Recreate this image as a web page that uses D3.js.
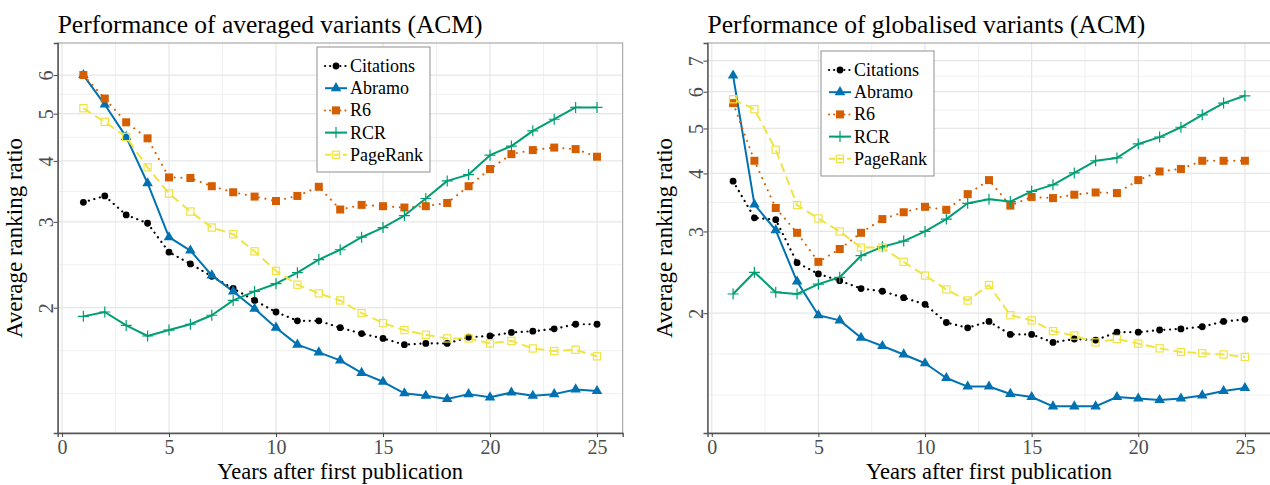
<!DOCTYPE html>
<html>
<head>
<meta charset="utf-8">
<script src="https://cdn.jsdelivr.net/npm/d3@7"></script>
<style>
  body { margin: 0; background: #fff; }
  svg { display: block; }
  text { font-family: "Liberation Serif", "Times New Roman", serif; }
</style>
</head>
<body>
<svg id="chart" width="1270" height="485"></svg>
<script>
// Years after first publication
const years = [1, 2, 3, 4, 5, 6, 7, 8, 9, 10, 11, 12, 13, 14, 15, 16, 17, 18, 19, 20, 21, 22, 23, 24, 25];
const seriesNames = ["Citations", "Abramo", "R6", "RCR", "PageRank"];
const xTicks = [0, 5, 10, 15, 20, 25];

// Averaged variants (left panel)
const avgCitations = [3.29, 3.39, 3.10, 2.98, 2.60, 2.46, 2.32, 2.19, 2.07, 1.96, 1.88, 1.88, 1.82, 1.77, 1.73, 1.68, 1.69, 1.69, 1.74, 1.75, 1.78, 1.79, 1.81, 1.85, 1.85];
const avgAbramo    = [6.00, 5.22, 4.48, 3.60, 2.79, 2.62, 2.33, 2.16, 1.99, 1.82, 1.68, 1.62, 1.56, 1.47, 1.41, 1.335, 1.32, 1.30, 1.33, 1.31, 1.34, 1.32, 1.33, 1.36, 1.35];
const avgR6        = [6.00, 5.37, 4.80, 4.45, 3.70, 3.69, 3.55, 3.45, 3.38, 3.31, 3.39, 3.54, 3.18, 3.25, 3.23, 3.21, 3.23, 3.28, 3.55, 3.85, 4.13, 4.21, 4.26, 4.23, 4.08];
const avgRCR       = [1.92, 1.96, 1.84, 1.75, 1.80, 1.85, 1.93, 2.07, 2.16, 2.24, 2.36, 2.51, 2.63, 2.79, 2.92, 3.09, 3.35, 3.64, 3.75, 4.11, 4.29, 4.61, 4.87, 5.15, 5.15];
const avgPageRank  = [5.13, 4.81, 4.48, 3.88, 3.43, 3.15, 2.92, 2.83, 2.61, 2.38, 2.23, 2.14, 2.07, 1.95, 1.86, 1.80, 1.76, 1.73, 1.73, 1.69, 1.71, 1.65, 1.63, 1.64, 1.59];
const avgYTicks = [2, 3, 4, 5, 6];

// Globalised variants (right panel)
const globCitations = [3.85, 3.21, 3.18, 2.57, 2.43, 2.35, 2.26, 2.23, 2.16, 2.09, 1.91, 1.86, 1.92, 1.80, 1.80, 1.73, 1.76, 1.75, 1.82, 1.82, 1.84, 1.85, 1.87, 1.92, 1.94];
const globAbramo    = [6.50, 3.43, 3.02, 2.34, 1.98, 1.93, 1.77, 1.70, 1.63, 1.56, 1.45, 1.39, 1.39, 1.34, 1.32, 1.26, 1.26, 1.26, 1.32, 1.31, 1.30, 1.31, 1.33, 1.36, 1.38];
const globR6        = [5.67, 4.26, 3.37, 2.98, 2.58, 2.75, 2.98, 3.19, 3.30, 3.39, 3.34, 3.61, 3.87, 3.41, 3.56, 3.54, 3.60, 3.64, 3.63, 3.87, 4.04, 4.09, 4.26, 4.26, 4.26];
const globRCR       = [2.20, 2.45, 2.22, 2.20, 2.31, 2.39, 2.66, 2.78, 2.86, 3.00, 3.19, 3.45, 3.52, 3.48, 3.66, 3.78, 4.01, 4.26, 4.32, 4.63, 4.79, 5.03, 5.35, 5.67, 5.88];
const globPageRank  = [5.78, 5.50, 4.50, 3.42, 3.20, 3.00, 2.77, 2.77, 2.58, 2.41, 2.25, 2.13, 2.30, 1.98, 1.93, 1.83, 1.79, 1.73, 1.76, 1.72, 1.68, 1.65, 1.64, 1.63, 1.61];
const globYTicks = [2, 3, 4, 5, 6, 7];

const styles = {
  Citations: { color: "#000000", width: 2.2, dash: "0.1,5.6", cap: "round", shape: "circle" },
  Abramo:    { color: "#0072B2", width: 2,   dash: null,      cap: "butt",  shape: "triangle" },
  R6:        { color: "#D55E00", width: 2,   dash: "0.1,6.6", cap: "round", shape: "square" },
  RCR:       { color: "#009E73", width: 2,   dash: null,      cap: "butt",  shape: "plus" },
  PageRank:  { color: "#F0E442", width: 2,   dash: "9,5",     cap: "butt",  shape: "opensquare" }
};

const svg = d3.select("#chart");
const serif = "'Liberation Serif', 'Times New Roman', serif";

function drawMarker(g, shape, color) {
  if (shape === "circle") {
    g.append("circle").attr("r", 3.4).attr("fill", color);
  } else if (shape === "triangle") {
    g.append("path").attr("d", d3.symbol(d3.symbolTriangle, 48)()).attr("fill", color);
  } else if (shape === "square") {
    g.append("rect").attr("x", -4).attr("y", -4).attr("width", 8).attr("height", 8).attr("fill", color);
  } else if (shape === "plus") {
    g.append("path").attr("d", "M-5.5,0H5.5M0,-5.5V5.5").attr("stroke", color).attr("stroke-width", 1.2).attr("fill", "none");
  } else if (shape === "opensquare") {
    g.append("rect").attr("x", -3.6).attr("y", -3.6).attr("width", 7.2).attr("height", 7.2)
      .attr("fill", "none").attr("stroke", color).attr("stroke-width", 1.2);
  }
}

// ggplot-like minor breaks on a log10 scale
function logGrid(majors, domain) {
  const t = majors.map(Math.log10);
  const step = t[1] - t[0];
  const ext = [t[0] - step, ...t, t[t.length - 1] + step];
  const out = [];
  for (let i = 0; i < ext.length; i++) {
    out.push(ext[i]);
    if (i < ext.length - 1) out.push((ext[i] + ext[i + 1]) / 2);
  }
  return out.map(v => Math.pow(10, v))
    .filter(v => v >= domain[0] && v <= domain[1] && !majors.includes(v));
}

function drawPanel(p) {
  const x = d3.scaleLinear().domain([-0.2, 26.2]).range([p.left, p.right]);
  const y = d3.scaleLog().domain(p.yDomain).range([p.bottom, p.top]);
  const g = svg.append("g");

  // grid
  const minorX = [2.5, 7.5, 12.5, 17.5, 22.5];
  g.append("g").selectAll("line").data(minorX).join("line")
    .attr("x1", d => x(d)).attr("x2", d => x(d)).attr("y1", p.top).attr("y2", p.bottom)
    .attr("stroke", "#f0f0f0").attr("stroke-width", 1);
  g.append("g").selectAll("line").data(logGrid(p.yTicks, p.yDomain)).join("line")
    .attr("x1", p.left).attr("x2", p.right).attr("y1", d => y(d)).attr("y2", d => y(d))
    .attr("stroke", "#f0f0f0").attr("stroke-width", 1);
  g.append("g").selectAll("line").data(xTicks).join("line")
    .attr("x1", d => x(d)).attr("x2", d => x(d)).attr("y1", p.top).attr("y2", p.bottom)
    .attr("stroke", "#e6e6e6").attr("stroke-width", 1.2);
  g.append("g").selectAll("line").data(p.yTicks).join("line")
    .attr("x1", p.left).attr("x2", p.right).attr("y1", d => y(d)).attr("y2", d => y(d))
    .attr("stroke", "#e6e6e6").attr("stroke-width", 1.2);

  // series lines
  const line = d3.line().x((d, i) => x(years[i])).y(d => y(d));
  seriesNames.forEach((name, k) => {
    const s = styles[name];
    g.append("path").datum(p.series[k])
      .attr("d", line).attr("fill", "none")
      .attr("stroke", s.color).attr("stroke-width", s.width)
      .attr("stroke-linecap", s.cap).attr("stroke-linejoin", "round")
      .attr("stroke-dasharray", s.dash);
  });
  // points
  seriesNames.forEach((name, k) => {
    const s = styles[name];
    g.append("g").selectAll("g").data(p.series[k]).join("g")
      .attr("transform", (d, i) => `translate(${x(years[i])},${y(d)})`)
      .each(function () { drawMarker(d3.select(this), s.shape, s.color); });
  });

  // panel border and axes
  g.append("rect").attr("x", p.left).attr("y", p.top)
    .attr("width", p.right - p.left).attr("height", p.bottom - p.top)
    .attr("fill", "none").attr("stroke", "#9a9a9a").attr("stroke-width", 1);

  const xAxis = d3.axisBottom(x).tickValues(xTicks).tickSize(4).tickPadding(3);
  const xa = g.append("g").attr("transform", `translate(0,${p.bottom})`).call(xAxis)
    .attr("font-family", serif).attr("font-size", 20);
  xa.select(".domain").attr("stroke", "#555").attr("stroke-width", 1.4);
  xa.selectAll(".tick line").attr("stroke", "#444");
  xa.selectAll(".tick text").attr("fill", "#4d4d4d")
    .style("font-size", "20px").style("font-family", serif);

  const yAxis = d3.axisLeft(y).tickValues(p.yTicks).tickFormat(d3.format("d")).tickSize(4);
  const ya = g.append("g").attr("transform", `translate(${p.left},0)`).call(yAxis)
    .attr("font-family", serif).attr("font-size", 20);
  ya.select(".domain").attr("stroke", "#555").attr("stroke-width", 1.4);
  ya.selectAll(".tick line").attr("stroke", "#444");
  ya.selectAll(".tick text")
    .attr("x", null).attr("dy", null)
    .attr("transform", "translate(-5,0) rotate(-90)")
    .attr("text-anchor", "middle")
    .attr("fill", "#4d4d4d")
    .style("font-size", "20px").style("font-family", serif);

  // titles
  g.append("text").attr("x", p.left).attr("y", 33)
    .style("font-size", "25.5px").attr("fill", "#000").text(p.title);
  g.append("text").attr("x", (p.left + p.right) / 2).attr("y", 479)
    .attr("text-anchor", "middle").style("font-size", "22.5px").text("Years after first publication");
  g.append("text").attr("transform", `translate(${p.left - 36},${(p.top + p.bottom) / 2}) rotate(-90)`)
    .attr("text-anchor", "middle").style("font-size", "23px").text("Average ranking ratio");

  // legend
  const lg = g.append("g").attr("transform", `translate(${p.legendX},${p.legendY})`);
  lg.append("rect").attr("width", 113).attr("height", 125)
    .attr("fill", "#fff").attr("stroke", "#8f8f8f").attr("stroke-width", 1);
  seriesNames.forEach((name, k) => {
    const s = styles[name];
    const ey = 19 + k * 22.2;
    lg.append("line").attr("x1", 8).attr("x2", 30).attr("y1", ey).attr("y2", ey)
      .attr("stroke", s.color).attr("stroke-width", s.width)
      .attr("stroke-linecap", s.cap).attr("stroke-dasharray", s.dash ? (name === "PageRank" ? "6,3" : "0.1,5") : null);
    const m = lg.append("g").attr("transform", `translate(19,${ey})`);
    drawMarker(m, s.shape, s.color);
    lg.append("text").attr("x", 33).attr("y", ey + 6)
      .style("font-size", "18px").attr("fill", "#000").text(name);
  });
}

drawPanel({
  title: "Performance of averaged variants (ACM)",
  left: 57.7, right: 622.7, top: 43, bottom: 433,
  yDomain: [1.107, 6.98], yTicks: avgYTicks,
  series: [avgCitations, avgAbramo, avgR6, avgRCR, avgPageRank],
  legendX: 317, legendY: 47
});

drawPanel({
  title: "Performance of globalised variants (ACM)",
  left: 707.5, right: 1270.5, top: 43, bottom: 433,
  yDomain: [1.104, 7.64], yTicks: globYTicks,
  series: [globCitations, globAbramo, globR6, globRCR, globPageRank],
  legendX: 821, legendY: 51
});
</script>
</body>
</html>
